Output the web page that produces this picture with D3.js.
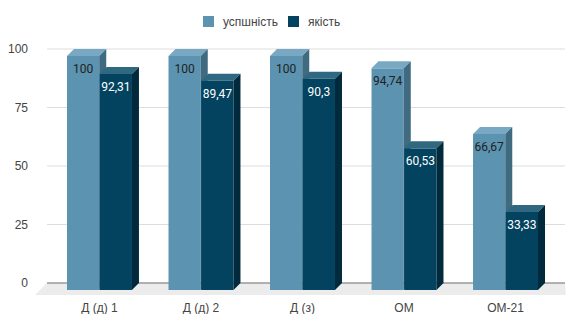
<!DOCTYPE html>
<html>
<head>
<meta charset="utf-8">
<script src="https://cdn.jsdelivr.net/npm/d3@7"></script>
<style>
  body { margin: 0; background: #fff; }
  svg { display: block; }
  .axis text { font-family: "Liberation Sans", Arial, sans-serif; font-size: 12px; fill: #444; }
  .val { font-family: Roboto, sans-serif; font-size: 12px; }
</style>
</head>
<body>
<svg id="chart" width="566" height="314"></svg>
<script>
// data
const groups = ["Д (д) 1", "Д (д) 2", "Д (з)", "ОМ", "ОМ-21"];
const series = ["успшність", "якість"];
const uspishnist = [100, 100, 100, 94.74, 66.67];
const yakist = [92.31, 89.47, 90.3, 60.53, 33.33];
const yTicks = [0, 25, 50, 75, 100];

const colors = {
  "успшність": { front: "#5b93b0", top: "#79a8c2", side: "#3f6a80", text: "#222" },
  "якість":   { front: "#03435f", top: "#2f6880", side: "#012b3d", text: "#fff" }
};

const svg = d3.select('#chart');
const depth = 7;

const y = d3.scaleLinear().domain([0, 100]).range([283, 49]);
const x = d3.scaleBand().domain(groups).range([40, 565]).paddingInner(0.36).paddingOuter(0.266);
const xs = d3.scaleBand().domain(series).range([0, x.bandwidth()]).paddingInner(0.015);

// floor
svg.append('polygon')
  .attr('points', [[47, y(0)], [565, y(0)], [566, y(0) + 12], [35, y(0) + 12]].join(' '))
  .attr('fill', '#ececec');

// gridlines
svg.append('g')
  .selectAll('line')
  .data(yTicks)
  .join('line')
  .attr('x1', 47).attr('x2', 565)
  .attr('y1', d => y(d)).attr('y2', d => y(d))
  .attr('stroke', d => d === 0 ? '#999' : '#ddd')
  .attr('stroke-width', d => d === 0 ? 1.3 : 1);

// y labels
svg.append('g').attr('class', 'axis')
  .selectAll('text')
  .data(yTicks)
  .join('text')
  .attr('x', 28)
  .attr('y', d => y(d) + 4)
  .attr('text-anchor', 'end')
  .text(d => d);

// bars
const rows = [];
groups.forEach((g, i) => {
  rows.push({ g: g, s: series[0], v: uspishnist[i] });
  rows.push({ g: g, s: series[1], v: yakist[i] });
});

const w = xs.bandwidth();
const bars = svg.append('g')
  .selectAll('g')
  .data(rows)
  .join('g')
  .each(function(d) {
    const b = d3.select(this);
    const x0 = x(d.g) + xs(d.s);
    const yf = y(d.v) + depth;
    const yb = y(0) + depth;
    const c = colors[d.s];
    b.append('rect')
      .attr('x', x0).attr('y', yf)
      .attr('width', w).attr('height', yb - yf)
      .attr('fill', c.front);
    b.append('polygon')
      .attr('points', [[x0, yf], [x0 + w, yf], [x0 + w + depth, yf - depth], [x0 + depth, yf - depth]].join(' '))
      .attr('fill', c.top);
    b.append('polygon')
      .attr('points', [[x0 + w, yf], [x0 + w + depth, yf - depth], [x0 + w + depth, yb - depth], [x0 + w, yb]].join(' '))
      .attr('fill', c.side);
    b.append('text')
      .attr('class', 'val')
      .attr('x', x0 + w / 2)
      .attr('y', yf + 17)
      .attr('text-anchor', 'middle')
      .attr('fill', c.text)
      .text(String(d.v).replace('.', ','));
  });

// x labels
svg.append('g').attr('class', 'axis')
  .selectAll('text')
  .data(groups)
  .join('text')
  .attr('x', d => x(d) + x.bandwidth() / 2)
  .attr('y', 312)
  .attr('text-anchor', 'middle')
  .text(d => d);

// legend
const legX = [203, 288];
const leg = svg.append('g').attr('class', 'axis')
  .selectAll('g')
  .data(series)
  .join('g')
  .attr('transform', (d, i) => `translate(${legX[i]},16)`);
leg.append('rect')
  .attr('width', 11).attr('height', 11)
  .attr('fill', d => colors[d].front);
leg.append('text')
  .attr('x', 20).attr('y', 10)
  .text(d => d);
</script>
</body>
</html>
